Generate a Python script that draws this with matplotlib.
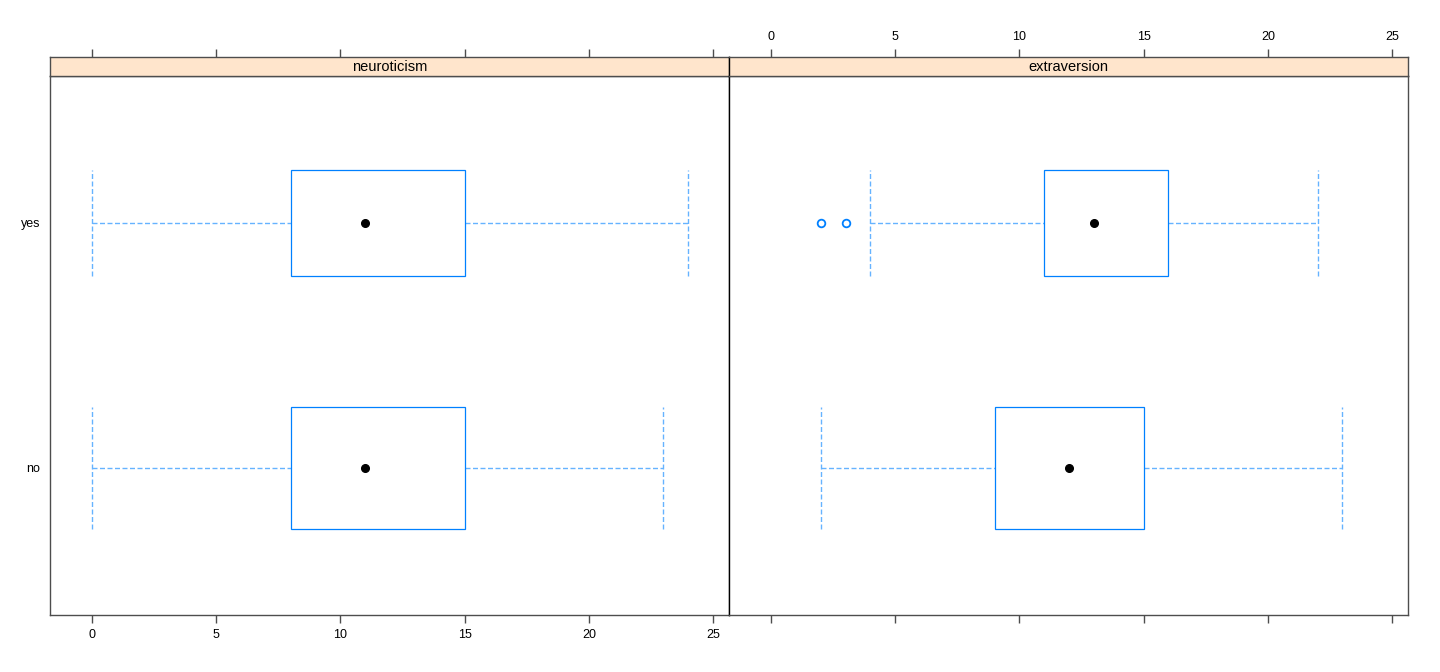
import matplotlib
matplotlib.use('Agg')
import matplotlib.pyplot as plt
from matplotlib.patches import Rectangle

plt.rcParams['font.family'] = ['Liberation Sans', 'DejaVu Sans']
plt.rcParams['lines.scale_dashes'] = False

# data
panels = ['neuroticism', 'extraversion']
groups = ['no', 'yes']
# per panel, per group: lower whisker, q1, median, q3, upper whisker
neuro_stats = [(0, 8, 11, 15, 23), (0, 8, 11, 15, 24)]
extra_stats = [(2, 9, 12, 15, 23), (4, 11, 13, 16, 22)]
extra_outliers = [[], [2, 3]]
neuro_outliers = [[], []]
# relative box heights (varwidth)
box_height = [0.50, 0.43]
xticks = [0, 5, 10, 15, 20, 25]

box_col = '#0080ff'
whisk_col = '#66b3ff'
frame_col = '#4d4d4d'
strip_col = '#ffe5cc'

W, H = 1440, 672
fig = plt.figure(figsize=(W / 100, H / 100), dpi=100)

px_l, px_r, px_top, px_bot, strip_h = 50, 1408, 76, 615, 19
pw = (px_r - px_l) / 2

stats_all = [neuro_stats, extra_stats]
outl_all = [neuro_outliers, extra_outliers]
dash = (0, (3.6, 1.8))

for i, name in enumerate(panels):
    left = px_l + i * pw
    ax = fig.add_axes([left / W, (H - px_bot) / H, pw / W, (px_bot - px_top) / H])
    sax = fig.add_axes([left / W, (H - px_top) / H, pw / W, strip_h / H])

    for g, (lo, q1, med, q3, hi) in enumerate(stats_all[i]):
        y = g + 1
        h = box_height[g] / 2
        ax.add_patch(Rectangle((q1, y - h), q3 - q1, 2 * h, fill=False,
                               edgecolor=box_col, lw=0.9, zorder=3))
        ax.plot([lo, q1], [y, y], color=whisk_col, lw=1.0, ls=dash)
        ax.plot([q3, hi], [y, y], color=whisk_col, lw=1.0, ls=dash)
        ax.plot([lo, lo], [y - h, y + h], color=whisk_col, lw=1.0, ls=dash)
        ax.plot([hi, hi], [y - h, y + h], color=whisk_col, lw=1.0, ls=dash)
        ax.plot(med, y, 'o', color='black', ms=5.5, zorder=4)
        out = outl_all[i][g]
        if out:
            ax.plot(out, [y] * len(out), 'o', mfc='none', mec=box_col, ms=5.5, mew=1.3)

    ax.set_xlim(-1.69, 25.64)
    ax.set_ylim(0.4, 2.6)
    ax.set_xticks(xticks)
    ax.tick_params(axis='x', direction='out', length=6, width=1, color=frame_col,
                   labelsize=9, pad=4)
    if i == 0:
        ax.set_yticks([1, 2])
        ax.set_yticklabels(groups)
        ax.tick_params(axis='y', length=0, pad=7, labelsize=9)
        ax.tick_params(axis='x', top=False, labeltop=False, bottom=True, labelbottom=True)
    else:
        ax.set_yticks([])
        ax.tick_params(axis='x', labelbottom=False)
    for sp in ax.spines.values():
        sp.set_color(frame_col)
        sp.set_linewidth(1)
    if i == 1:
        ax.spines['left'].set_color('black')

    # strip
    sax.set_facecolor(strip_col)
    sax.set_xlim(-1.69, 25.64)
    sax.set_ylim(0, 1)
    sax.set_yticks([])
    sax.set_xticks(xticks)
    sax.tick_params(axis='x', bottom=False, labelbottom=False, top=True,
                    labeltop=(i == 1), direction='out', length=6, width=1,
                    color=frame_col, labelsize=9, pad=4)
    for sp in sax.spines.values():
        sp.set_color(frame_col)
        sp.set_linewidth(1)
    if i == 1:
        sax.spines['left'].set_color('black')
    sax.text(0.5, 0.45, name, transform=sax.transAxes, ha='center', va='center',
             fontsize=10.5)

fig.savefig('out.png', dpi=100)
